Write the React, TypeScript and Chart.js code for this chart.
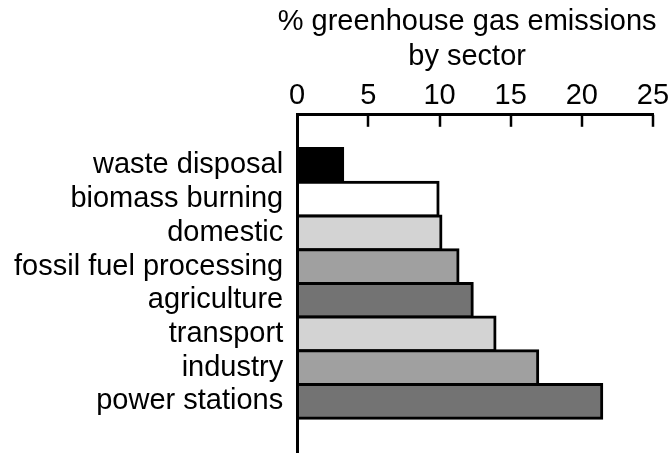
import React, { useEffect, useRef } from "react";
import { Chart, registerables } from "chart.js";

Chart.register(...registerables);

const categories = [
  "waste disposal",
  "biomass burning",
  "domestic",
  "fossil fuel processing",
  "agriculture",
  "transport",
  "industry",
  "power stations",
];
const values = [3.2, 9.9, 10.1, 11.3, 12.3, 13.9, 16.9, 21.4];
const barColors = ["#000000", "#ffffff", "#d3d3d3", "#a0a0a0", "#737373", "#d3d3d3", "#a0a0a0", "#737373"];
const xTicks = [0, 5, 10, 15, 20, 25];
const axisTitle = ["% greenhouse gas emissions", "by sector"];

const FONT = "'Liberation Sans', Arial, Helvetica, sans-serif";
const FS = 29;
const LH = FS * 1.2;

const axisTitlePlugin = {
  id: "axisTitlePlugin",
  afterDraw(chart: any) {
    const ctx = chart.ctx;
    const area = chart.chartArea;
    const cx = (area.left + area.right) / 2 - 8;
    ctx.save();
    ctx.fillStyle = "#000";
    ctx.font = `${FS}px ${FONT}`;
    ctx.textAlign = "center";
    ctx.textBaseline = "middle";
    axisTitle.forEach((line, i) => {
      ctx.fillText(line, cx, 5 + LH / 2 + i * LH);
    });
    ctx.restore();
  },
};

const inwardTicks = {
  id: "inwardTicks",
  afterDraw(chart: any) {
    const x = chart.scales.x;
    const ctx = chart.ctx;
    const top = chart.chartArea.top;
    ctx.save();
    ctx.strokeStyle = "#000";
    ctx.lineWidth = 2.5;
    x.ticks.forEach((t: any) => {
      if (t.value === 0) return;
      const px = Math.round(x.getPixelForValue(t.value));
      ctx.beginPath();
      ctx.moveTo(px, top);
      ctx.lineTo(px, top + 12);
      ctx.stroke();
    });
    ctx.restore();
  },
};

export default function App() {
  const ref = useRef<HTMLCanvasElement | null>(null);
  useEffect(() => {
    if (!ref.current) return;
    const labels = ["", ...categories, ""];
    const data = [null, ...values, null];
    const colors = ["#fff", ...barColors, "#fff"];
    const chart = new Chart(ref.current, {
      type: "bar",
      data: {
        labels,
        datasets: [
          {
            data,
            backgroundColor: colors,
            borderColor: "#000",
            borderWidth: 3,
            inflateAmount: 1.5,
            borderSkipped: "start",
            barPercentage: 1,
            categoryPercentage: 1,
          },
        ],
      },
      options: {
        indexAxis: "y",
        responsive: false,
        animation: false,
        layout: { padding: { left: 0, right: 0, top: 78, bottom: 1 } },
        plugins: { legend: { display: false }, tooltip: { enabled: false } },
        scales: {
          x: {
            position: "top",
            min: 0,
            max: 25,
            afterBuildTicks: (s: any) => {
              s.ticks = xTicks.map((v) => ({ value: v }));
            },
            afterFit: (s: any) => {
              s.paddingRight = 15;
              s.paddingLeft = 0;
            },
            grid: { display: false, drawTicks: false },
            border: { display: true, color: "#000", width: 3, z: 1 },
            ticks: {
              color: "#000",
              font: { family: FONT, size: FS },
              padding: 1,
              maxRotation: 0,
            },
          },
          y: {
            afterFit: (s: any) => {
              s.paddingTop = 0;
              s.paddingBottom = 0;
            },
            grid: { display: false, drawTicks: false },
            border: { display: true, color: "#000", width: 3, z: 1 },
            ticks: {
              color: "#000",
              font: { family: FONT, size: FS },
              padding: 14,
              autoSkip: false,
            },
          },
        },
      },
      plugins: [inwardTicks, axisTitlePlugin],
    });
    return () => chart.destroy();
  }, []);
  return (
    <div style={{ position: "fixed", left: 0, top: 0, width: 668, height: 453, background: "#fff" }}>
      <canvas ref={ref} width={668} height={453} style={{ display: "block" }} />
    </div>
  );
}
